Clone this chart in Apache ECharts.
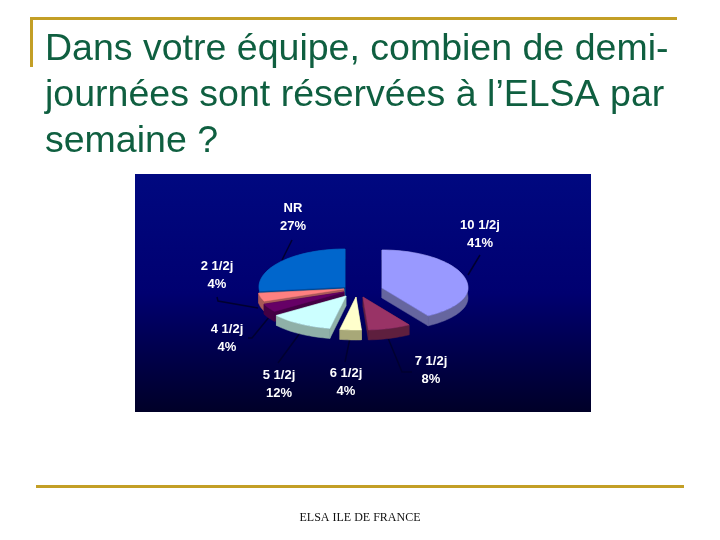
<!DOCTYPE html>
<html><head><meta charset="utf-8">
<style>html,body{margin:0;padding:0;background:#fff}#c{width:720px;height:540px}</style>
<script src="https://cdn.jsdelivr.net/npm/echarts@6/dist/echarts.min.js"></script>
</head><body><div id="c"></div>
<script>
const titleText = "Dans votre équipe, combien de demi-\njournées sont réservées à l’ELSA par\nsemaine ?";
const footerText = "ELSA ILE DE FRANCE";
const categories = ["10 1/2j", "7 1/2j", "6 1/2j", "5 1/2j", "4 1/2j", "2 1/2j", "NR"];
const percents = [41, 8, 4, 12, 4, 4, 27];
const topColors = ["#9999ff", "#993366", "#ffffcc", "#ccffff", "#660066", "#ff8080", "#0066cc"];
const sideColors = ["#66669f", "#5e1f3e", "#a8a878", "#8fb0a8", "#440044", "#a85858", "#00488f"];
// slice apex position on the page
const apexes = [[382, 288], [363, 297], [356, 297], [346, 296], [344, 292], [344, 289], [345, 287]];
const labelPositions = [[480, 225], [431, 361], [346, 373], [279, 375], [227, 329], [217, 266], [293, 208]];
const leaders = [
  [[480, 255], [468, 275]],
  [[412, 372], [402, 372], [388, 338]],
  [[345, 362], [350, 338]],
  [[278, 363], [300, 333]],
  [[248, 338], [252, 338], [270, 316]],
  [[217, 297], [218, 301], [258, 308]],
  [[292, 240], [282, 260]]
];
const RX = 86, RY_BACK = 38, RY_FRONT = 33, DEPTH = 10;

const starts = [];
percents.reduce((sum, p, i) => (starts[i] = sum, sum + p), 0);

function arcPoints(i) {
  const a0 = starts[i] / 100 * 2 * Math.PI, a1 = (starts[i] + percents[i]) / 100 * 2 * Math.PI;
  const [cx, cy] = apexes[i];
  const pts = [];
  const n = Math.max(6, Math.round(percents[i] * 1.5));
  for (let k = 0; k <= n; k++) {
    const a = a0 + (a1 - a0) * k / n, c = Math.cos(a);
    pts.push([cx + RX * Math.sin(a), cy - (c > 0 ? RY_BACK : RY_FRONT) * c]);
  }
  return pts;
}
const drop = p => [p[0], p[1] + DEPTH];

function renderItem(params, api) {
  const i = api.value(0);
  const children = [];
  children.push({type: 'polyline', shape: {points: leaders[i]}, style: {fill: null, stroke: '#000030', lineWidth: 1.5}});
  const arc = arcPoints(i), apex = apexes[i], first = arc[0], last = arc[arc.length - 1];
  const sideStyle = {fill: sideColors[i], stroke: sideColors[i], lineWidth: 0.5};
  [[apex, first, drop(first), drop(apex)],
   [apex, last, drop(last), drop(apex)],
   arc.concat(arc.slice().reverse().map(drop))
  ].forEach(points => children.push({type: 'polygon', shape: {points}, style: sideStyle}));
  children.push({type: 'polygon', shape: {points: [apex].concat(arc)}, style: {fill: topColors[i], stroke: topColors[i], lineWidth: 0.5}});
  const [lx, ly] = labelPositions[i];
  children.push({type: 'text', x: lx, y: ly - 8, style: {
    text: categories[i] + "\n" + api.value(1) + "%",
    fill: '#fff', font: 'bold 13px "Liberation Sans", Arial, sans-serif',
    lineHeight: 17.5, align: 'center', verticalAlign: 'top'
  }});
  return {type: 'group', children};
}

const drawOrder = categories.map((_, i) => i).reverse();
const chart = echarts.init(document.getElementById('c'), null, {renderer: 'canvas'});
chart.setOption({
  animation: false,
  backgroundColor: '#ffffff',
  title: [
    {text: footerText, left: 360, top: 512, padding: 0, textAlign: 'center',
     textStyle: {fontFamily: '"Liberation Serif", "Times New Roman", serif', fontSize: 12, fontWeight: 'normal', color: '#111', lineHeight: 12}}
  ],
  graphic: [
    {type: 'text', x: 45, y: 27, scaleX: 1.042, style: {text: titleText, fill: '#0f5f40',
      font: '36px "Liberation Sans", Arial, sans-serif', lineHeight: 46}},
    {type: 'rect', z: -1, shape: {x: 30, y: 17, width: 647, height: 3}, style: {fill: '#c39f26'}},
    {type: 'rect', z: -1, shape: {x: 30, y: 17, width: 3, height: 50}, style: {fill: '#c39f26'}},
    {type: 'rect', z: -1, shape: {x: 36, y: 485, width: 648, height: 3}, style: {fill: '#c39f26'}},
    {type: 'rect', z: -1, shape: {x: 135, y: 174, width: 456, height: 238}, style: {
      fill: {type: 'linear', x: 0, y: 0, x2: 0, y2: 1, colorStops: [
        {offset: 0, color: '#000880'}, {offset: 0.5, color: '#000070'}, {offset: 1, color: '#000028'}]}}}
  ],
  series: [{
    type: 'custom',
    coordinateSystem: 'none',
    renderItem,
    data: drawOrder.map(i => [i, percents[i]]),
    silent: true
  }]
});
</script></body></html>
